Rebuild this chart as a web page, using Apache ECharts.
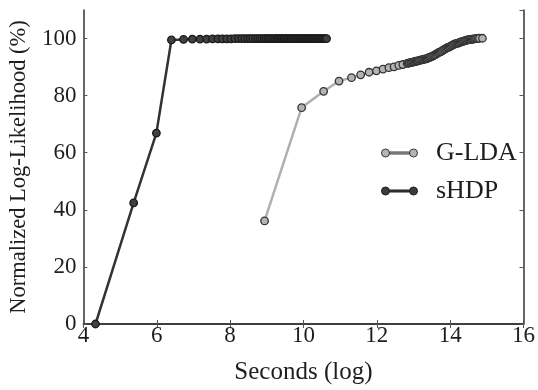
<!DOCTYPE html>
<html>
<head>
<meta charset="utf-8">
<title>Normalized Log-Likelihood vs Seconds</title>
<script src="https://cdn.jsdelivr.net/npm/echarts@6/dist/echarts.min.js"></script>
<style>
  html, body { margin: 0; padding: 0; background: #ffffff; }
  #chart { width: 538px; height: 390px; }
</style>
</head>
<body>
<div id="chart"></div>
<script>
// Seconds (log) and normalized log-likelihood (%) for each method
const gldaSeconds = [
  8.94, 9.95, 10.55, 10.97, 11.31, 11.56, 11.79, 11.99, 12.17, 12.33, 12.47, 12.60, 12.71,
  12.83, 12.86, 12.89, 12.92, 12.95, 12.98, 13.01, 13.04, 13.07, 13.10, 13.13, 13.16, 13.19,
  13.22, 13.25, 13.28, 13.31, 13.34, 13.37, 13.40, 13.43, 13.46, 13.49, 13.52, 13.55, 13.58,
  13.61, 13.64, 13.67, 13.70, 13.73, 13.76, 13.79, 13.82, 13.85, 13.88, 13.91, 13.94, 13.97,
  14.00, 14.03, 14.06, 14.09, 14.12, 14.15, 14.18, 14.21, 14.24, 14.27, 14.30, 14.33, 14.36,
  14.39, 14.42, 14.45, 14.48, 14.51, 14.54, 14.57, 14.60, 14.63, 14.66, 14.69, 14.72, 14.76,
  14.80, 14.88
];
const gldaLikelihood = [
  36.1, 75.8, 81.5, 85.1, 86.3, 87.3, 88.2, 88.7, 89.3, 89.8, 90.1, 90.6, 90.9,
  91.3, 91.35, 91.45, 91.55, 91.65, 91.75, 91.85, 91.95, 92.05, 92.1, 92.2, 92.35, 92.45,
  92.55, 92.65, 92.75, 92.8, 92.9, 93.0, 93.2, 93.35, 93.5, 93.65, 93.85, 94.05, 94.25,
  94.45, 94.7, 94.95, 95.15, 95.3, 95.5, 95.75, 96.0, 96.25, 96.45, 96.7, 96.9, 97.0,
  97.25, 97.45, 97.65, 97.85, 98.05, 98.2, 98.3, 98.4, 98.5, 98.7, 98.85, 98.95, 99.1,
  99.2, 99.3, 99.4, 99.5, 99.6, 99.65, 99.7, 99.75, 99.8, 99.9, 99.95, 100.0, 100.0,
  100.1, 100.1
];

const shdpSeconds = [
  4.33, 5.37, 5.99, 6.40, 6.73, 6.97, 7.18, 7.36, 7.52, 7.67, 7.79, 7.91, 8.02, 8.13, 8.23, 8.32,
  8.40, 8.48, 8.55, 8.62, 8.69, 8.75, 8.81, 8.87, 8.93, 8.98, 9.03, 9.08, 9.13, 9.18, 9.23,
  9.27, 9.31, 9.35, 9.39, 9.43, 9.47, 9.51, 9.55, 9.59, 9.63, 9.67, 9.71, 9.75, 9.79, 9.83,
  9.87, 9.91, 9.95, 9.99, 10.03, 10.07, 10.11, 10.15, 10.19, 10.23, 10.27, 10.31, 10.35,
  10.39, 10.43, 10.47, 10.51, 10.55, 10.59, 10.63
];
const shdpLikelihood = [
  0.0, 42.4, 66.9, 99.5, 99.7, 99.8, 99.8, 99.8, 99.9, 99.9, 99.9, 99.9, 99.9, 100, 100, 100,
  100, 100, 100, 100, 100, 100, 100, 100, 100, 100, 100, 100, 100, 100, 100,
  100, 100, 100, 100, 100, 100, 100, 100, 100, 100, 100, 100, 100, 100, 100,
  100, 100, 100, 100, 100, 100, 100, 100, 100, 100, 100, 100, 100,
  100, 100, 100, 100, 100, 100, 100
];

const xTicks = [4, 6, 8, 10, 12, 14, 16];
const yTicks = [0, 20, 40, 60, 80, 100];

const seriesNames = ['G-LDA', 'sHDP'];

const toPairs = (xs, ys) => xs.map((x, i) => [x, ys[i]]);

const serif = '"Liberation Serif", "DejaVu Serif", serif';
const ink = '#1e1e1e';

// Legend glyph: two round markers joined by a short bar
const pairIcon = 'path://M0,4 A4,4 0 1,0 8,4 A4,4 0 1,0 0,4 Z M28,4 A4,4 0 1,0 36,4 A4,4 0 1,0 28,4 Z M8,3 L28,3 L28,5 L8,5 Z';

const chart = echarts.init(document.getElementById('chart'), null, { renderer: 'canvas' });

const frameAxisX = {
  type: 'value', min: xTicks[0], max: xTicks[xTicks.length - 1], interval: 2,
  splitLine: { show: false },
  axisLine: { show: true, lineStyle: { color: '#333', width: 1.5 } },
  axisTick: { show: true, inside: true, length: 4, lineStyle: { color: '#555', width: 1 } }
};
const frameAxisY = {
  type: 'value', min: yTicks[0], max: 110, interval: 20,
  splitLine: { show: false },
  axisLine: { show: true, lineStyle: { color: '#333', width: 1.5 } },
  axisTick: { show: true, inside: true, length: 4, lineStyle: { color: '#555', width: 1 } }
};

chart.setOption({
  backgroundColor: '#ffffff',
  animation: false,
  grid: { left: 81, right: 14, top: 10, bottom: 61, containLabel: false },
  legend: {
    orient: 'vertical',
    left: 376,
    top: 135,
    itemWidth: 37,
    itemHeight: 8,
    itemGap: 12,
    textStyle: { fontFamily: serif, fontSize: 26, color: ink, padding: [0, 0, 0, 13], lineHeight: 26 },
    data: [
      { name: seriesNames[0], icon: pairIcon, itemStyle: { color: '#b4b4b4', borderColor: '#3a3a3a', borderWidth: 1 } },
      { name: seriesNames[1], icon: pairIcon, itemStyle: { color: '#3c3c3c', borderColor: '#1e1e1e', borderWidth: 1 } }
    ]
  },
  xAxis: [
    Object.assign({}, frameAxisX, {
      position: 'bottom',
      name: 'Seconds (log)',
      nameLocation: 'middle',
      nameGap: 36,
      nameTextStyle: { fontFamily: serif, fontSize: 25, color: ink },
      axisLabel: { show: true, margin: 0, fontFamily: serif, fontSize: 23, color: ink }
    }),
    Object.assign({}, frameAxisX, { position: 'top', axisLabel: { show: false } })
  ],
  yAxis: [
    Object.assign({}, frameAxisY, {
      position: 'left',
      name: 'Normalized Log-Likelihood (%)',
      nameLocation: 'middle',
      nameGap: 48,
      nameTextStyle: { fontFamily: serif, fontSize: 22.5, color: ink },
      axisLabel: { show: true, margin: 7, fontFamily: serif, fontSize: 23, color: ink, showMaxLabel: false }
    }),
    Object.assign({}, frameAxisY, { position: 'right', axisLabel: { show: false } })
  ],
  series: [
    {
      name: seriesNames[0],
      type: 'line',
      data: toPairs(gldaSeconds, gldaLikelihood),
      symbol: 'circle',
      symbolSize: 7.5,
      lineStyle: { color: '#b0b0b0', width: 2.5 },
      itemStyle: { color: '#b4b4b4', borderColor: '#333', borderWidth: 1.3 },
      z: 3
    },
    {
      name: seriesNames[1],
      type: 'line',
      data: toPairs(shdpSeconds, shdpLikelihood),
      symbol: 'circle',
      symbolSize: 7.5,
      lineStyle: { color: '#333', width: 2.5 },
      itemStyle: { color: '#404040', borderColor: '#1a1a1a', borderWidth: 1.3 },
      z: 4
    }
  ]
});
</script>
</body>
</html>
